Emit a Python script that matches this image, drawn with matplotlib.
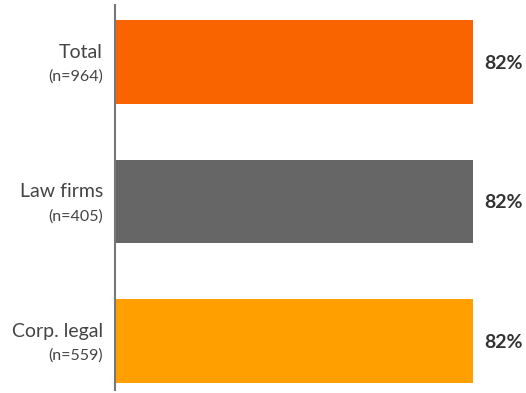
import matplotlib
matplotlib.use("Agg")
import matplotlib.pyplot as plt

categories = ["Total", "Law firms", "Corp. legal"]
counts = ["(n=964)", "(n=405)", "(n=559)"]
values = [82, 82, 82]
colors = ["#F96400", "#666666", "#FFA000"]

plt.rcParams['font.family'] = ['Lato', 'DejaVu Sans']

W, H = 526, 393
fig = plt.figure(figsize=(W / 100, H / 100), dpi=100)
ax = fig.add_axes([115 / W, 1 - 390 / H, (W - 115) / W, (390 - 5) / H])

y = list(range(len(categories)))
ax.barh(y, values, height=0.6, color=colors)
ax.set_xlim(0, 82 * (W - 115) / 358)
ax.set_ylim(2 + 49 / 139.5, -57 / 139.5)

xl = -12 * (82 / 358)
for i, (c, n, v) in enumerate(zip(categories, counts, values)):
    ax.text(xl, i - 0.03, c, ha='right', va='baseline',
            fontsize=14, color='#444444')
    ax.text(xl, i + 0.055, n, ha='right', va='top',
            fontsize=11.5, color='#444444')
    ax.text(v + 2.5, i + 0.01, f"{v}%", ha='left', va='center', fontsize=14,
            fontweight='bold', color='#333333')

for s in ['top', 'right', 'bottom']:
    ax.spines[s].set_visible(False)
ax.spines['left'].set_color('#777777')
ax.spines['left'].set_linewidth(1.5)
ax.set_xticks([])
ax.set_yticks([])

fig.savefig("out.png", dpi=100)
